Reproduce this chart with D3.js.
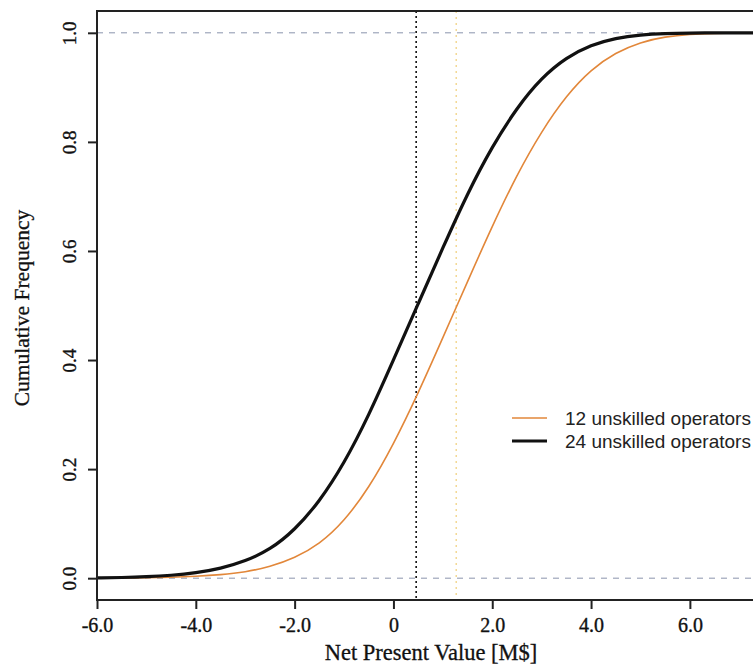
<!DOCTYPE html>
<html>
<head>
<meta charset="utf-8">
<script src="https://cdn.jsdelivr.net/npm/d3@7"></script>
<style>
  body { margin: 0; background: #fff; }
  svg { display: block; }
</style>
</head>
<body>
<div class="canvas"></div>
<script>
// values
const npv = [-6, -5.5, -5, -4.5, -4, -3.5, -3, -2.5, -2, -1.5, -1, -0.5, 0, 0.5, 1, 1.5, 2, 2.5, 3, 3.5, 4, 4.5, 5, 5.5, 6, 6.5, 7, 7.5];
const ops12 = [0.0002, 0.0003, 0.0008, 0.0017, 0.0035, 0.0062, 0.011, 0.021, 0.037, 0.062, 0.104, 0.165, 0.245, 0.339, 0.441, 0.544, 0.646, 0.74, 0.82, 0.885, 0.933, 0.964, 0.983, 0.993, 0.9974, 0.9991, 0.9997, 0.9999];
const ops24 = [0.0005, 0.0012, 0.0025, 0.005, 0.0095, 0.0175, 0.031, 0.052, 0.088, 0.14, 0.21, 0.298, 0.4, 0.503, 0.606, 0.706, 0.792, 0.863, 0.918, 0.955, 0.978, 0.9905, 0.9965, 0.9988, 0.9996, 0.9999, 1.0, 1.0];
const medians = [1.27, 0.46];   // 12 ops, 24 ops
const xTicks = [-6, -4, -2, 0, 2, 4, 6];
const xTickLabels = ['-6.0', '-4.0', '-2.0', '0', '2.0', '4.0', '6.0'];
const yTicks = [0, 0.2, 0.4, 0.6, 0.8, 1.0];
const seriesNames = ['12 unskilled operators', '24 unskilled operators'];

const width = 753, height = 669;
const svg = d3.select('.canvas')
    .append('svg')
        .attr('width', width)
        .attr('height', height);

const plotLeft = 97, plotRight = 763, plotTop = 11, plotBottom = 600;

const x = d3.scaleLinear().domain([-6, 7.48]).range([plotLeft, plotRight]);
const y = d3.scaleLinear().domain([-0.04, 1.04]).range([plotBottom, plotTop]);

const serif = 'Liberation Serif, Times New Roman, serif';
const sans = 'Liberation Sans, Arial, sans-serif';

// reference lines at 0 and 1
svg.selectAll('.hline')
    .data([0, 1])
    .enter().append('line')
        .attr('x1', plotLeft).attr('x2', plotRight)
        .attr('y1', d => y(d)).attr('y2', d => y(d))
        .attr('stroke', '#8a93ad')
        .attr('stroke-width', 1)
        .attr('stroke-dasharray', '6,6');

// median markers
svg.append('line')
    .attr('x1', x(medians[0])).attr('x2', x(medians[0]))
    .attr('y1', plotTop).attr('y2', plotBottom)
    .attr('stroke', '#f0cf7a')
    .attr('stroke-width', 1.2)
    .attr('stroke-dasharray', '2,4');
svg.append('line')
    .attr('x1', x(medians[1])).attr('x2', x(medians[1]))
    .attr('y1', plotTop).attr('y2', plotBottom)
    .attr('stroke', '#111')
    .attr('stroke-width', 1.6)
    .attr('stroke-dasharray', '2,3');

const line = d3.line()
    .x(d => x(d[0]))
    .y(d => y(d[1]))
    .curve(d3.curveBasis);

svg.append('path')
    .datum(npv.map((v, i) => [v, ops12[i]]))
    .attr('d', line)
    .attr('fill', 'none')
    .attr('stroke', '#e2873a')
    .attr('stroke-width', 1.6);

svg.append('path')
    .datum(npv.map((v, i) => [v, ops24[i]]))
    .attr('d', line)
    .attr('fill', 'none')
    .attr('stroke', '#111')
    .attr('stroke-width', 3.2);

// frame
svg.append('rect')
    .attr('x', plotLeft).attr('y', plotTop)
    .attr('width', plotRight - plotLeft).attr('height', plotBottom - plotTop)
    .attr('fill', 'none')
    .attr('stroke', '#222')
    .attr('stroke-width', 2);

// x axis
const xAxis = d3.axisBottom(x)
    .tickValues(xTicks)
    .tickFormat((d, i) => xTickLabels[i])
    .tickSize(9)
    .tickPadding(9);
const xAxisGroup = svg.append('g')
    .attr('transform', `translate(0, ${plotBottom})`)
    .call(xAxis);
xAxisGroup.select('.domain').remove();
xAxisGroup.selectAll('line').attr('stroke', '#222').attr('stroke-width', 2);
xAxisGroup.selectAll('text')
    .attr('font-family', serif)
    .attr('font-size', 20)
    .attr('fill', '#111')
    .attr('stroke', '#111')
    .attr('stroke-width', 0.35);

// y axis
const yAxis = d3.axisLeft(y)
    .tickValues(yTicks)
    .tickFormat(d3.format('.1f'))
    .tickSize(9);
const yAxisGroup = svg.append('g')
    .attr('transform', `translate(${plotLeft}, 0)`)
    .call(yAxis);
yAxisGroup.select('.domain').remove();
yAxisGroup.selectAll('line').attr('stroke', '#222').attr('stroke-width', 2);
yAxisGroup.selectAll('text')
    .attr('font-family', serif)
    .attr('font-size', 19)
    .attr('fill', '#111')
    .attr('stroke', '#111')
    .attr('stroke-width', 0.35)
    .attr('x', null).attr('dy', null)
    .attr('text-anchor', 'middle')
    .attr('transform', 'translate(-21, 0) rotate(-90)');

// axis titles
svg.append('text')
    .attr('x', 431)
    .attr('y', 660)
    .attr('text-anchor', 'middle')
    .attr('font-family', serif)
    .attr('font-size', 22.5)
    .attr('fill', '#111')
    .attr('stroke', '#111')
    .attr('stroke-width', 0.3)
    .text('Net Present Value [M$]');

svg.append('text')
    .attr('transform', `translate(29, 308) rotate(-90)`)
    .attr('text-anchor', 'middle')
    .attr('font-family', serif)
    .attr('font-size', 21.5)
    .attr('fill', '#111')
    .attr('stroke', '#111')
    .attr('stroke-width', 0.3)
    .text('Cumulative Frequency');

// legend
const legend = svg.append('g').attr('transform', 'translate(512, 418)');
const legendStyle = [
    {color: '#e2873a', w: 1.6},
    {color: '#111', w: 3.2}
];
seriesNames.forEach((name, i) => {
    const g = legend.append('g').attr('transform', `translate(0, ${i * 23})`);
    g.append('line')
        .attr('x1', 0).attr('x2', 35)
        .attr('stroke', legendStyle[i].color)
        .attr('stroke-width', legendStyle[i].w);
    g.append('text')
        .attr('x', 53)
        .attr('y', 7)
        .attr('font-family', sans)
        .attr('font-size', 19)
        .attr('fill', '#222')
        .text(name);
});
</script>
</body>
</html>
